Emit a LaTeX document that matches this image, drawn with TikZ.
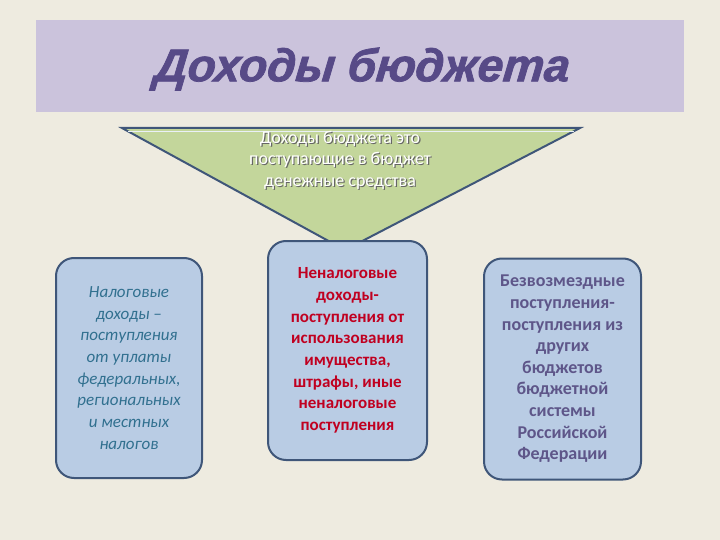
\documentclass[tikz,border=0pt]{standalone}
\usepackage{fontspec}
\setmainfont{Carlito}
\newfontfamily\titlefont{Liberation Sans}[FakeBold=1.6,FakeSlant=0.1]
\usetikzlibrary{positioning}

\definecolor{bgcol}{HTML}{EEEBE0}
\definecolor{titlebg}{HTML}{CBC3DC}
\definecolor{titletext}{HTML}{574A87}
\definecolor{trifill}{HTML}{C3D69B}
\definecolor{frame}{HTML}{3F5679}
\definecolor{boxfill}{HTML}{B9CCE4}
\definecolor{taxtext}{HTML}{31708F}
\definecolor{nontaxtext}{HTML}{C00020}
\definecolor{freetext}{HTML}{5E5689}

\tikzset{
  incomebox/.style={draw=frame, line width=2pt, fill=boxfill, rounded corners=18pt,
    align=center, inner sep=0pt, font=\fontsize{17}{21.7}\selectfont},
  tritext/.style={align=center, font=\fontsize{18}{21.5}\selectfont}
}

\begin{document}
\begin{tikzpicture}[x=1pt,y=-1pt]
\fill[bgcol] (0,0) rectangle (720,540);
\useasboundingbox (0,0) rectangle (720,540);

% title
\fill[titlebg] (36,20) rectangle (684,112);
\node[text=titletext, font=\titlefont\fontsize{46}{50}\selectfont\bfseries\itshape] (title) at (361,69) {Доходы бюджета};

% triangle
\coordinate (tl) at (122,128);
\coordinate (tr) at (580,128);
\coordinate (tip) at (345,250);
\draw[frame, line width=2pt, fill=trifill, line join=miter] (tl) -- (tr) -- (tip) -- cycle;
\draw[white!70!boxfill, line width=1pt] (128,131.5) -- (574,131.5);

\node[tritext, text=black!60] (defshadow) at (341.2,161.2) {Доходы бюджета это\\поступающие в бюджет\\денежные средства};
\node[tritext, text=white] (def) at (340,160) {Доходы бюджета это\\поступающие в бюджет\\денежные средства};

% boxes
\node[incomebox, minimum width=146pt, minimum height=220pt, text=taxtext, font=\fontsize{17}{21.7}\selectfont\itshape] (tax) at (129,368)
  {Налоговые\\доходы –\\поступления\\от уплаты\\федеральных,\\региональных\\и местных\\налогов};
\node[incomebox, minimum width=159pt, minimum height=219pt, text=nontaxtext, font=\fontsize{17}{21.7}\selectfont\bfseries] (nontax) at (347.5,350.5)
  {Неналоговые\\доходы-\\поступления от\\использования\\имущества,\\штрафы, иные\\неналоговые\\поступления};
\node[incomebox, minimum width=157pt, minimum height=221pt, text=freetext, font=\fontsize{18}{21.6}\selectfont\bfseries] (free) at (562.5,369)
  {Безвозмездные\\поступления-\\поступления из\\других\\бюджетов\\бюджетной\\системы\\Российской\\Федерации};

\end{tikzpicture}
\end{document}
